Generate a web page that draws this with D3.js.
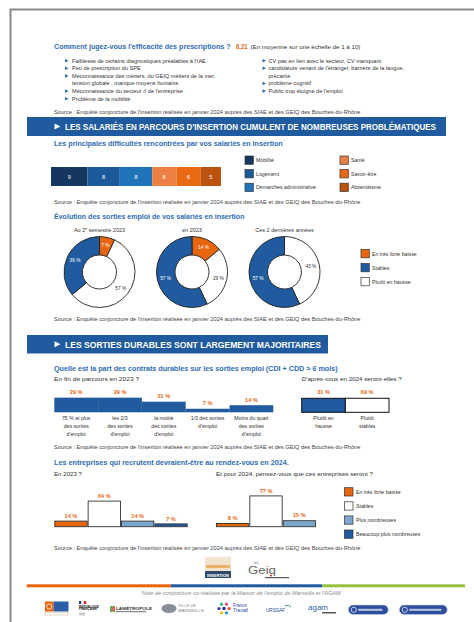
<!DOCTYPE html>
<html>
<head>
<meta charset="utf-8">
<script src="https://cdn.jsdelivr.net/npm/d3@7"></script>
<style>
  html, body { margin: 0; padding: 0; background: #fff; }
  svg { display: block; font-family: "Liberation Sans", Arial, sans-serif; }
</style>
</head>
<body>
<svg width="474" height="622"></svg>
<script>
const noteEfficacite = "6,21";
const freinsGauche = [
  ["Faiblesse de certains diagnostiques préalables à l'IAE"],
  ["Peu de prescription du SPE"],
  ["Méconnaissance des métiers, du GEIQ métiers de la mer,", "tension globale , manque moyens humains"],
  ["Méconnaissance du secteur // de l'entreprise"],
  ["Problème de la mobilité"]
];
const freinsDroite = [
  ["CV pas en lien avec le secteur, CV manquant"],
  ["candidature venant de l'étranger, barrière de la langue,", "précarité"],
  ["problème cognitif"],
  ["Public trop éloigné de l'emploi"]
];

const difficultes = ["Mobilité", "Logement", "Démarches administrative", "Santé", "Savoir-être", "Absentéisme"];
const difficultesScores = [9, 8, 8, 6, 6, 5];

const periodes = ["Au 2e semestre 2023", "en 2023", "Ces 2 dernières années"];
const evolutionCategories = ["En très forte baisse", "Stables", "Plutôt en hausse"];
const evolutionBaisse = [7, 14, 0];
const evolutionHausse = [57, 29, 43];
const evolutionStables = [36, 57, 57];

const partsDurables = [
  ["75 % et plus", "des sorties", "d'emploi"],
  ["les 2/3", "des sorties", "d'emploi"],
  ["la moitié", "des sorties", "d'emploi"],
  ["1/3 des sorties", "d'emploi"],
  ["Moins du quart", "des sorties", "d'emploi"]
];
const partsDurablesValeurs = [29, 29, 21, 7, 14];
const tendance2024 = [["Plutôt en", "hausse"], ["Plutôt", "stables"]];
const tendance2024Valeurs = [31, 69];

const entreprisesCategories = ["En très forte baisse", "Stables", "Plus nombreuses", "Beaucoup plus nombreuses"];
const entreprises2023 = [14, 64, 14, 7];
const entreprises2024 = [8, 77, 15];

const sourceTxt = "Source : Enquête conjoncture de l'insertion réalisée en  janvier 2024 auprès des SIAE et des GEIQ des Bouches-du-Rhône";

// ---- styles ----
const BLUE_TXT = "#2f6db3";
const NAVY = "#1f5b9e";
const ORANGE = "#e8650f";
const INK = "#333";

const svg = d3.select("svg");

// texte ; si o.width est donné, on le comprime horizontalement pour tenir dans cette largeur
function txt(g, x, y, str, o = {}) {
  const t = g.append("text")
    .attr("font-size", o.size || 5)
    .attr("fill", o.fill || INK)
    .attr("text-anchor", o.anchor || "start")
    .text(str);
  if (o.bold) t.attr("font-weight", "bold");
  if (o.italic) t.attr("font-style", "italic");
  if (o.width) {
    const k = o.width / t.node().getComputedTextLength();
    t.attr("transform", `translate(${x},${y}) scale(${k},1)`);
  } else {
    t.attr("x", x).attr("y", y);
  }
  return t;
}

function triangle(g, x, y, s, fill) {
  g.append("path")
    .attr("d", `M${x},${y - s / 2}L${x + s},${y}L${x},${y + s / 2}Z`)
    .attr("fill", fill);
}

function source(y) {
  txt(svg, 54, y, sourceTxt, { size: 4.6, width: 307, fill: "#444" });
}

function banner(y, w, h, label, textW) {
  svg.append("rect").attr("x", 27).attr("y", y).attr("width", w).attr("height", h).attr("fill", NAVY);
  triangle(svg, 54.5, y + h / 2, 6, "#fff");
  txt(svg, 65, y + h / 2 + 3.5, label, { size: 9.6, bold: true, fill: "#fff", width: textW });
}

// cadre de page
svg.append("path").attr("d", "M474,9.5H10.5V622").attr("fill", "none").attr("stroke", "#8a8a8a").attr("stroke-width", 2);

// ---- 1. prescriptions ----
txt(svg, 54, 48.5, "Comment jugez-vous l'efficacité des prescriptions ?", { size: 7.5, bold: true, fill: BLUE_TXT, width: 177 });
txt(svg, 236, 48.5, noteEfficacite, { size: 6.5, bold: true, fill: ORANGE, width: 11.5 });
txt(svg, 250.5, 48.5, "(En moyenne sur une échelle de 1 à 10)", { size: 5.6, width: 110 });

function bulletList(items, xTri, xTxt) {
  let line = 0;
  items.forEach(lines => {
    lines.forEach((l, k) => {
      const y = 62.5 + line * 7.6;
      if (k === 0) triangle(svg, xTri, y - 1.8, 3.6, BLUE_TXT);
      txt(svg, xTxt, y, l, { size: 5.6 });
      line++;
    });
  });
}
bulletList(freinsGauche, 65, 72);
bulletList(freinsDroite, 262.5, 268.5);
source(113.8);

// ---- 2. difficultés ----
banner(117, 419, 19, "LES SALARIÉS EN PARCOURS D'INSERTION CUMULENT DE NOMBREUSES PROBLÉMATIQUES", 371);
txt(svg, 54, 145.5, "Les principales difficultés rencontrées par vos salariés en insertion", { size: 7, bold: true, fill: BLUE_TXT, width: 229 });

const diffColor = d3.scaleOrdinal(difficultes, ["#15365f", "#1d5a9c", "#2274b9", "#ec7f43", "#e96914", "#bb520e"]);
const cumul = d3.cumsum(difficultesScores);
const xDiff = d3.scaleLinear().domain([0, d3.sum(difficultesScores)]).range([51, 221]);
const gDiff = svg.append("g");
gDiff.selectAll("rect").data(difficultes).join("rect")
  .attr("x", (d, i) => xDiff(cumul[i] - difficultesScores[i]))
  .attr("width", (d, i) => xDiff(cumul[i]) - xDiff(cumul[i] - difficultesScores[i]))
  .attr("y", 167).attr("height", 19)
  .attr("fill", d => diffColor(d));
gDiff.selectAll("text").data(difficultes).join("text")
  .attr("x", (d, i) => xDiff(cumul[i] - difficultesScores[i] / 2))
  .attr("y", 178.6).attr("text-anchor", "middle")
  .attr("font-size", 5.5).attr("fill", "#fff")
  .text((d, i) => difficultesScores[i]);

const gLeg1 = svg.append("g");
difficultes.forEach((d, i) => {
  const x = i < 3 ? 245 : 340;
  const y = 156 + (i % 3) * 13.6;
  gLeg1.append("rect").attr("x", x).attr("y", y).attr("width", 8.3).attr("height", 8.3)
    .attr("fill", diffColor(d)).attr("stroke", "#333").attr("stroke-width", 0.7);
  txt(gLeg1, x + 11, y + 6, d, { size: 5.2 });
});
source(204);

// ---- 3. donuts ----
txt(svg, 54, 218.5, "Évolution des sorties emploi de vos salariés en insertion", { size: 7, bold: true, fill: BLUE_TXT, width: 191 });

const evoColor = d3.scaleOrdinal(evolutionCategories, [ORANGE, NAVY, "#fff"]);
const xDonut = d3.scalePoint().domain(periodes).range([99.5, 284.5]);
const pie = d3.pie().sort(null).value(d => d.v);
const arc = d3.arc().innerRadius(17).outerRadius(35.5);
const arcLabel = d3.arc().innerRadius(27).outerRadius(27);

periodes.forEach((p, i) => {
  const cx = xDonut(p);
  const t = svg.append("text").attr("x", cx).attr("y", 232).attr("text-anchor", "middle")
    .attr("font-size", 5.5).attr("fill", INK);
  if (i === 0) {
    t.append("tspan").text("Au 2");
    t.append("tspan").text("e").attr("font-size", 3.5).attr("dy", -2);
    t.append("tspan").text(" semestre 2023").attr("dy", 2);
  } else {
    t.text(p);
  }
  // ordre horaire : baisse, hausse, stables
  const parts = [
    { c: evolutionCategories[0], v: evolutionBaisse[i] },
    { c: evolutionCategories[2], v: evolutionHausse[i] },
    { c: evolutionCategories[1], v: evolutionStables[i] }
  ];
  const g = svg.append("g").attr("transform", `translate(${cx},272)`);
  const arcs = pie(parts).filter(a => a.data.v > 0);
  g.selectAll("path").data(arcs).join("path")
    .attr("d", arc).attr("fill", a => evoColor(a.data.c))
    .attr("stroke", "#222").attr("stroke-width", 0.9);
  g.selectAll("text").data(arcs).join("text")
    .attr("transform", a => `translate(${arcLabel.centroid(a)})`)
    .attr("dy", 1.8).attr("text-anchor", "middle").attr("font-size", 4.8)
    .attr("fill", a => a.data.c === "Plutôt en hausse" ? INK : "#fff")
    .text(a => a.data.v + " %");
});

evolutionCategories.forEach((c, i) => {
  const y = 249.5 + i * 14;
  svg.append("rect").attr("x", 361).attr("y", y).attr("width", 8.3).attr("height", 8.3)
    .attr("fill", evoColor(c)).attr("stroke", "#333").attr("stroke-width", 0.7);
  txt(svg, 372, y + 6, c, { size: 5.2 });
});
source(321);

// ---- 4. sorties durables ----
banner(335, 301, 18.5, "LES SORTIES DURABLES SONT LARGEMENT MAJORITAIRES", 256);
txt(svg, 54, 371, "Quelle est la part des contrats durables sur les sorties emploi (CDI + CDD > 6 mois)", { size: 7, bold: true, fill: BLUE_TXT, width: 284 });
txt(svg, 54, 381, "En fin de parcours en 2023 ?", { size: 5.2, width: 85 });
txt(svg, 301.7, 381, "D'après-vous en 2024 seront-elles ?", { size: 5.2, width: 100 });

const xDur = d3.scaleBand().domain(d3.range(partsDurables.length)).range([54.3, 273.3]);
const yDur = d3.scaleLinear().domain([0, 100]).range([412.3, 361.8]);
const gDur = svg.append("g");
gDur.selectAll("rect").data(partsDurablesValeurs).join("rect")
  .attr("x", (d, i) => xDur(i)).attr("width", xDur.bandwidth())
  .attr("y", d => yDur(d)).attr("height", d => yDur(0) - yDur(d))
  .attr("fill", NAVY);
gDur.selectAll("text.v").data(partsDurablesValeurs).join("text").attr("class", "v")
  .attr("x", (d, i) => xDur(i) + xDur.bandwidth() / 2).attr("y", d => yDur(d) - 3.3)
  .attr("text-anchor", "middle").attr("font-size", 5.6).attr("font-weight", "bold").attr("fill", ORANGE)
  .text(d => d + " %");
partsDurables.forEach((lines, i) => {
  lines.forEach((l, k) => txt(gDur, xDur(i) + xDur.bandwidth() / 2, 420 + k * 7.8, l, { size: 5.2, anchor: "middle" }));
});

// 2024 : axe tronqué à 28 %
const xT = d3.scaleBand().domain(d3.range(tendance2024.length)).range([301.7, 389]);
const yT = d3.scaleLinear().domain([0, 28]).range([412.3, 398.3]).clamp(true);
const tColor = [NAVY, "#fff"];
const gT = svg.append("g");
gT.selectAll("rect").data(tendance2024Valeurs).join("rect")
  .attr("x", (d, i) => xT(i)).attr("width", xT.bandwidth())
  .attr("y", d => yT(d)).attr("height", d => yT(0) - yT(d))
  .attr("fill", (d, i) => tColor[i]).attr("stroke", "#111").attr("stroke-width", 1);
gT.selectAll("text.v").data(tendance2024Valeurs).join("text").attr("class", "v")
  .attr("x", (d, i) => xT(i) + xT.bandwidth() / 2).attr("y", d => yT(d) - 4.8)
  .attr("text-anchor", "middle").attr("font-size", 5.6).attr("font-weight", "bold").attr("fill", ORANGE)
  .text(d => d + " %");
tendance2024.forEach((lines, i) => {
  lines.forEach((l, k) => txt(gT, xT(i) + xT.bandwidth() / 2, 420 + k * 7.8, l, { size: 5.2, anchor: "middle" }));
});
source(449);

// ---- 5. entreprises ----
txt(svg, 54, 465, "Les entreprises qui recrutent devraient-être au rendez-vous en 2024.", { size: 7, bold: true, fill: BLUE_TXT, width: 235 });
txt(svg, 54, 476, "En 2023 ?", { size: 5.2, width: 28 });
txt(svg, 216, 476, "Et pour 2024, pensez-vous que ces entreprises seront ?", { size: 5.2, width: 157 });

const entColor = d3.scaleOrdinal(entreprisesCategories, [ORANGE, "#fff", "#7ba7cf", NAVY]);
const yEnt = d3.scaleLinear().domain([0, 100]).range([526.7, 486.7]);

function entreprisesChart(values, x0, x1) {
  const cats = entreprisesCategories.slice(0, values.length);
  const x = d3.scaleBand().domain(cats).range([x0, x1]);
  const g = svg.append("g");
  g.selectAll("rect").data(values).join("rect")
    .attr("x", (d, i) => x(cats[i]) + 0.5).attr("width", x.bandwidth() - 1)
    .attr("y", d => yEnt(d)).attr("height", d => yEnt(0) - yEnt(d))
    .attr("fill", (d, i) => entColor(cats[i])).attr("stroke", "#333").attr("stroke-width", 0.9);
  g.selectAll("text").data(values).join("text")
    .attr("x", (d, i) => x(cats[i]) + x.bandwidth() / 2).attr("y", d => yEnt(d) - 3.4)
    .attr("text-anchor", "middle").attr("font-size", 5.6).attr("font-weight", "bold").attr("fill", ORANGE)
    .text(d => d + " %");
}
entreprisesChart(entreprises2023, 54.3, 187.7);
entreprisesChart(entreprises2024, 216, 316);

entreprisesCategories.forEach((c, i) => {
  const y = 487.7 + i * 14.1;
  svg.append("rect").attr("x", 344.5).attr("y", y).attr("width", 8.5).attr("height", 8.3)
    .attr("fill", entColor(c)).attr("stroke", "#333").attr("stroke-width", 0.7);
  txt(svg, 356, y + 6, c, { size: 5.2 });
});
source(550);

// ---- pied de page ----
const foot = svg.append("g");
// logo réseau insertion
foot.append("rect").attr("x", 205).attr("y", 557).attr("width", 26).attr("height", 14).attr("fill", "#f1e3cc");
foot.append("rect").attr("x", 206).attr("y", 565).attr("width", 24).attr("height", 3).attr("fill", "#e9a24f").attr("opacity", 0.8);
foot.append("rect").attr("x", 205).attr("y", 571).attr("width", 26).attr("height", 7).attr("fill", "#2e4a6b");
txt(foot, 218, 576.5, "INSERTION", { size: 3.6, bold: true, fill: "#fff", anchor: "middle", width: 22 });
// logo GEIQ
txt(foot, 248, 574, "Geiq", { size: 10.5, fill: "#666", width: 28 });
txt(foot, 254, 563.5, "les", { size: 3.4, fill: "#666" });
foot.append("circle").attr("cx", 271).attr("cy", 575.5).attr("r", 1).attr("fill", "#d0202a");
foot.append("rect").attr("x", 265).attr("y", 577).attr("width", 24).attr("height", 1.2).attr("fill", "#555");

const bandes = [[26.7, 171, ORANGE], [171, 322.3, NAVY], [322.3, 465, "#95c13d"]];
bandes.forEach(b => foot.append("rect").attr("x", b[0]).attr("y", 584.3).attr("width", b[1] - b[0]).attr("height", 3).attr("fill", b[2]));
txt(foot, 141.7, 595, "Note de conjoncture co-réalisée par la Maison de l'emploi de Marseille et l'AGAM", { size: 4.8, italic: true, fill: "#8a8a8a", width: 199 });

// logos partenaires (simplifiés)
foot.append("rect").attr("x", 45).attr("y", 601.5).attr("width", 8.5).attr("height", 10).attr("fill", ORANGE);
foot.append("circle").attr("cx", 49.2).attr("cy", 606.5).attr("r", 2.6).attr("fill", "none").attr("stroke", "#fff").attr("stroke-width", 0.8);
foot.append("rect").attr("x", 53.5).attr("y", 601.5).attr("width", 15).attr("height", 10).attr("fill", "#2c5ea8");
foot.append("rect").attr("x", 45).attr("y", 612.5).attr("width", 23).attr("height", 2.5).attr("fill", "none").attr("stroke", "#c9a070").attr("stroke-width", 0.4);
foot.append("rect").attr("x", 79).attr("y", 601).attr("width", 2.4).attr("height", 3).attr("fill", "#1e3a8a");
foot.append("rect").attr("x", 81.4).attr("y", 601).attr("width", 2.4).attr("height", 3).attr("fill", "#f3f3f3");
foot.append("rect").attr("x", 83.8).attr("y", 601).attr("width", 2.4).attr("height", 3).attr("fill", "#d22b2b");
txt(foot, 79, 607.5, "RÉPUBLIQUE", { size: 2.7, bold: true, fill: "#222", width: 20 });
txt(foot, 79, 610.3, "FRANÇAISE", { size: 2.7, bold: true, fill: "#222", width: 18 });
foot.append("rect").attr("x", 79).attr("y", 612.5).attr("width", 6).attr("height", 3).attr("fill", "#ccc");
foot.append("rect").attr("x", 110).attr("y", 606).attr("width", 5).attr("height", 6).attr("fill", "#6aa84f");
foot.append("rect").attr("x", 112).attr("y", 607).attr("width", 3).attr("height", 4).attr("fill", "#e06666");
txt(foot, 116, 610, "LAMÉTROPOLE", { size: 4.2, bold: true, fill: "#333", width: 36 });
foot.append("rect").attr("x", 116).attr("y", 611).attr("width", 30).attr("height", 1.2).attr("fill", "#888");
foot.append("ellipse").attr("cx", 169).attr("cy", 608.5).attr("rx", 7.5).attr("ry", 4.5).attr("fill", "#8a8f99");
txt(foot, 178, 607, "VILLE DE", { size: 3, fill: "#888", width: 18 });
txt(foot, 178, 611.5, "MARSEILLE", { size: 3.6, fill: "#888", width: 26 });
const starColors = ["#e8452c", "#2d8ed6", "#f5b400", "#4b2aa5", "#36b37e", "#e04c8e"];
starColors.forEach((c, i) => {
  const a = i * Math.PI / 3;
  foot.append("circle").attr("cx", 224 + 5 * Math.cos(a)).attr("cy", 608.5 + 5 * Math.sin(a)).attr("r", 1.6).attr("fill", c);
});
foot.append("circle").attr("cx", 224).attr("cy", 608.5).attr("r", 1.8).attr("fill", "#2b3c8e");
txt(foot, 233, 606.5, "France", { size: 4.6, fill: "#2b4aa0", width: 14 });
txt(foot, 233, 612, "Travail", { size: 4.6, fill: "#2b4aa0", width: 15 });
txt(foot, 266, 612, "URSSAF", { size: 4.6, fill: "#1d4f91", width: 19 });
foot.append("path").attr("d", "M285,606 q4,-2 6,1").attr("fill", "none").attr("stroke", "#2aa776").attr("stroke-width", 1);
txt(foot, 308, 610, "agam", { size: 8, fill: "#2b63b0", width: 20 });
foot.append("rect").attr("x", 322).attr("y", 612).attr("width", 14).attr("height", 1.5).attr("fill", "#555");
[[348.3, 40], [399.3, 48]].forEach(([x, w]) => {
  foot.append("rect").attr("x", x).attr("y", 605).attr("width", w).attr("height", 9.5).attr("rx", 4.7)
    .attr("fill", "#2f4f9e").attr("stroke", "#c8d2e8").attr("stroke-width", 0.6);
  foot.append("circle").attr("cx", x + 5.5).attr("cy", 609.8).attr("r", 2.6).attr("fill", "none").attr("stroke", "#fff").attr("stroke-width", 0.7);
  foot.append("rect").attr("x", x + 10).attr("y", 608.8).attr("width", w - 16).attr("height", 2).attr("fill", "#dfe6f5").attr("opacity", 0.8);
});
</script>
</body>
</html>
